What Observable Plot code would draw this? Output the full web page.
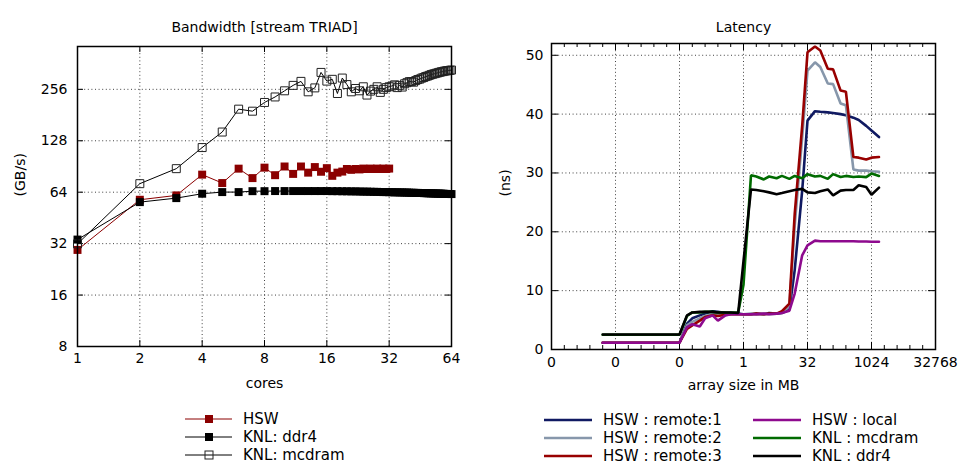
<!DOCTYPE html>
<html><head><meta charset="utf-8">
<script src="https://cdn.jsdelivr.net/npm/d3@7"></script>
<script src="https://cdn.jsdelivr.net/npm/@observablehq/plot@0.6"></script>
<style>
body{margin:0;background:#fff;font-family:"DejaVu Sans",sans-serif;}
#wrap{position:relative;width:958px;height:465px;overflow:hidden;background:#fff}
#wrap > svg{position:absolute;top:0}
</style></head><body><div id="wrap"></div>
<script>
// ---------- Bandwidth chart data ----------
const hswCores = [1,2,3,4,5,6,7,8,9,10,11,12,13,14,15,16,17,18,19,20,21,22,23,24,25,26,27,28,29,30,31,32];
const hswBW = [29.4,57.8,61.3,81.1,72.4,87.9,77.4,89.1,80.5,90.5,81.9,90.5,83.3,89.8,84.3,88.5,79.8,83.3,84.5,87.5,86.5,87.5,87,88,87.5,88,87.5,88,87.5,88,87.5,88];
const knlCores = [1,2,3,4,5,6,7,8,9,10,11,12,13,14,15,16,17,18,19,20,21,22,23,24,25,26,27,28,29,30,31,32,33,34,35,36,37,38,39,40,41,42,43,44,45,46,47,48,49,50,51,52,53,54,55,56,57,58,59,60,61,62,63,64];
const knlDdr4BW = [33.8,56.0,59.1,62.7,64.1,64.1,64.9,64.9,65,65,65,65,65,65,65,65,64.9,64.9,64.8,64.8,64.7,64.7,64.6,64.5,64.5,64.4,64.3,64.3,64.2,64.1,64.1,64,64,63.9,63.9,63.8,63.8,63.7,63.7,63.6,63.5,63.5,63.4,63.4,63.3,63.3,63.2,63.2,63.1,63.1,63,63,62.9,62.9,62.8,62.8,62.7,62.7,62.6,62.6,62.5,62.5,62.5,62.4];
const knlMcdramBW = [31.9,71.8,87.9,116.8,144,196,190.7,214.5,231,251,270,285,247.6,261,321.6,286,293,242,298,273,247.6,259,251,265,237,250,256,265,245.6,256,262,265,268,272,262,270,264,276,280,284,284,282,288,292,294,298,300,304,306,309,312,314,316,318,320,322,324,325,327,328,329,330,331,332];
const bwTicks = [8,16,32,64,128,256];
const coreTicks = [1,2,4,8,16,32,64];

// ---------- Latency chart data ----------
const sizesMB = [0.00048828125,0.000732421875,0.0009765625,0.00146484375,0.001953125,0.0029296875,0.00390625,0.005859375,0.0078125,0.01171875,0.015625,0.0234375,0.03125,0.046875,0.0625,0.09375,0.125,0.1875,0.25,0.375,0.5,0.75,1,1.5,2,3,4,6,8,12,16,24,32,48,64,96,128,192,256,384,512,768,1024,1536];
const hswRemote1 = [1.15,1.15,1.15,1.15,1.15,1.15,1.15,1.15,1.15,1.15,1.15,1.15,1.15,4.4,5.3,5.8,6.1,6.5,6.4,6.2,6.1,6.1,6.0,6.0,6.1,6.0,6.2,6.1,6.2,6.8,13.5,27,38.9,40.5,40.4,40.3,40.2,40.0,39.8,39.4,39.0,38.0,37.2,36.1];
const hswRemote2 = [1.15,1.15,1.15,1.15,1.15,1.15,1.15,1.15,1.15,1.15,1.15,1.15,1.15,4.1,4.7,5.3,5.7,6.0,6.0,6.0,6.0,6.0,6.0,6.1,6.0,6.1,6.0,6.1,6.3,7.3,21,36,47.4,48.8,48.0,45.2,45.1,41.8,41.5,30.6,30.4,30.4,30.3,30.2];
const hswRemote3 = [1.15,1.15,1.15,1.15,1.15,1.15,1.15,1.15,1.15,1.15,1.15,1.15,1.15,3.5,4.1,4.9,5.5,5.8,5.7,5.9,6.0,6.0,6.0,6.0,6.1,6.0,6.1,6.1,6.5,7.8,23,38,50.5,51.5,50.8,47.7,47.6,44.0,43.8,32.7,32.6,32.3,32.6,32.7];
const hswLocal = [1.15,1.15,1.15,1.15,1.15,1.15,1.15,1.15,1.15,1.15,1.15,1.15,1.15,3.8,4.3,3.9,5.3,5.8,4.9,5.8,6.0,6.0,6.0,6.0,6.0,6.1,6.0,6.1,6.2,6.6,9.5,16,17.7,18.5,18.4,18.4,18.4,18.4,18.4,18.4,18.35,18.35,18.3,18.3];
const knlMcdram = [2.5,2.5,2.5,2.5,2.5,2.5,2.5,2.5,2.5,2.5,2.5,2.5,2.5,5.7,6.3,6.3,6.4,6.4,6.3,6.3,6.3,6.3,11,29.6,29.4,28.9,29.4,29.1,29.5,29.0,29.5,29.1,29.8,29.4,29.5,29.0,29.8,29.3,29.5,29.3,29.4,29.3,29.9,29.5];
const knlDdr4 = [2.55,2.55,2.55,2.55,2.55,2.55,2.55,2.55,2.55,2.55,2.55,2.55,2.55,5.8,6.3,6.4,6.4,6.4,6.3,6.3,6.3,6.2,15,27.2,27.1,26.9,26.7,26.4,26.6,26.9,27.1,27.3,26.7,26.6,26.9,27.2,26.2,27.0,27.1,27.1,27.9,27.6,26.3,27.5];
const latTicks = [0,10,20,30,40,50];
const sizeTicks = [0.000030517578125,0.0009765625,0.03125,1,32,1024,32768];
const sizeTickLabels = ["0","0","0","1","32","1024","32768"];

const latSeries = [
  {name:"HSW : remote:1", values:hswRemote1, color:"#101a62"},
  {name:"HSW : remote:2", values:hswRemote2, color:"#8797ab"},
  {name:"HSW : remote:3", values:hswRemote3, color:"#980000"},
  {name:"HSW : local",    values:hswLocal,   color:"#8e0a8e"},
  {name:"KNL : mcdram",   values:knlMcdram,  color:"#006b00"},
  {name:"KNL : ddr4",     values:knlDdr4,    color:"#000000"}
];
const bwSeries = [
  {name:"HSW", cores:hswCores, values:hswBW, color:"#8b0000", fill:"#8b0000"},
  {name:"KNL: ddr4", cores:knlCores, values:knlDdr4BW, color:"#000000", fill:"#000000"},
  {name:"KNL: mcdram", cores:knlCores, values:knlMcdramBW, color:"#000000", fill:"none"}
];

const FONT = "DejaVu Sans, sans-serif";
const gridStyle = {stroke:"#000", strokeOpacity:0.75, strokeDasharray:"1,2.6", strokeWidth:1};
const wrap = document.getElementById("wrap");

// ---------- Left plot ----------
const bwMarks = [];
for (const s of bwSeries) {
  const rows = s.cores.map((c,i)=>({c, v:s.values[i]}));
  bwMarks.push(Plot.line(rows, {x:"c", y:"v", stroke:s.color, strokeWidth:1}));
  bwMarks.push(Plot.dot(rows, {x:"c", y:"v", symbol:"square", r:4.5,
    fill: s.fill === "none" ? "none" : s.fill,
    stroke: s.fill === "none" ? "#222" : null, strokeWidth:1}));
}
const LH = 300, LW = 374;
const left = Plot.plot({
  width:479, height:400,
  marginLeft:77, marginRight:28, marginTop:46, marginBottom:54,
  style:{fontFamily:FONT, fontSize:"14px", color:"#000", background:"#fff", overflow:"visible"},
  x:{type:"log", base:2, domain:[1,64], axis:null},
  y:{type:"log", base:2, domain:[8,456], axis:null},
  marks:[
    Plot.ruleX(coreTicks.slice(1,-1), gridStyle),
    Plot.ruleY(bwTicks.slice(1), gridStyle),
    Plot.ruleX(coreTicks, {stroke:"#000", insetTop:LH-6}),
    Plot.ruleX(coreTicks, {stroke:"#000", insetBottom:LH-6}),
    Plot.ruleY(bwTicks, {stroke:"#000", insetRight:LW-6}),
    Plot.ruleY(bwTicks, {stroke:"#000", insetLeft:LW-6}),
    Plot.text(coreTicks, {x:d=>d, text:d=>String(d), frameAnchor:"bottom", dy:16, fontSize:14}),
    Plot.text(bwTicks, {y:d=>d, text:d=>String(d), frameAnchor:"left", dx:-10, textAnchor:"end", fontSize:14}),
    ...bwMarks,
    Plot.frame({stroke:"#000", strokeWidth:1.5}),
    Plot.text(["Bandwidth [stream TRIAD]"], {text:d=>d, frameAnchor:"top", dy:-24, fontSize:14}),
    Plot.text(["(GB/s)"], {text:d=>d, frameAnchor:"left", dx:-57, rotate:-90, fontSize:14}),
    Plot.text(["cores"], {text:d=>d, frameAnchor:"bottom", dy:41, fontSize:14})
  ]
});
left.style.left = "0px";
wrap.appendChild(left);

// ---------- Right plot ----------
const minorX = d3.range(-15,16).filter(k=>k%5!==0).map(k=>2**k);
const RH = 306, RW = 384;
const latMarks = latSeries.map(s =>
  Plot.line(sizesMB.map((m,i)=>({m, v:s.values[i]})), {x:"m", y:"v", stroke:s.color, strokeWidth:2.6, strokeLinejoin:"miter"}));
const right = Plot.plot({
  width:479, height:400,
  marginLeft:72, marginRight:23, marginTop:43, marginBottom:51,
  style:{fontFamily:FONT, fontSize:"14px", color:"#000", background:"#fff", overflow:"visible"},
  x:{type:"log", base:2, domain:[sizeTicks[0], sizeTicks[sizeTicks.length-1]], axis:null},
  y:{domain:[0,52], axis:null},
  marks:[
    Plot.ruleX(sizeTicks.slice(1,-1), gridStyle),
    Plot.ruleY(latTicks.slice(1), gridStyle),
    Plot.ruleX(sizeTicks, {stroke:"#000", insetTop:RH-7}),
    Plot.ruleX(sizeTicks, {stroke:"#000", insetBottom:RH-7}),
    Plot.ruleX(minorX, {stroke:"#000", insetTop:RH-4}),
    Plot.ruleX(minorX, {stroke:"#000", insetBottom:RH-4}),
    Plot.ruleY(latTicks, {stroke:"#000", insetRight:RW-7}),
    Plot.ruleY(latTicks, {stroke:"#000", insetLeft:RW-7}),
    Plot.text(sizeTicks, {x:d=>d, text:(d,i)=>sizeTickLabels[i], frameAnchor:"bottom", dy:17, fontSize:14}),
    Plot.text(latTicks, {y:d=>d, text:d=>String(d), frameAnchor:"left", dx:-8, textAnchor:"end", fontSize:14}),
    ...latMarks,
    Plot.frame({stroke:"#000", strokeWidth:1.5}),
    Plot.text(["Latency"], {text:d=>d, frameAnchor:"top", dy:-21, fontSize:14}),
    Plot.text(["(ns)"], {text:d=>d, frameAnchor:"left", dx:-46, rotate:-90, fontSize:14}),
    Plot.text(["array size in MB"], {text:d=>d, frameAnchor:"bottom", dy:40, fontSize:14})
  ]
});
right.style.left = "479px";
wrap.appendChild(right);

// ---------- Legends ----------
const leg = d3.select(wrap).append("svg")
  .attr("width",958).attr("height",465)
  .style("position","absolute").style("left","0px").style("top","0px")
  .style("pointer-events","none")
  .style("font-family",FONT).style("font-size","15px");
const lrows = [419,437,455];
bwSeries.forEach((s,i)=>{
  const y = lrows[i];
  leg.append("line").attr("x1",185).attr("x2",232).attr("y1",y).attr("y2",y)
    .attr("stroke",s.color).attr("stroke-width",1);
  leg.append("rect").attr("x",205).attr("y",y-4).attr("width",8).attr("height",8)
    .attr("fill",s.fill).attr("stroke",s.fill==="none"?"#222":"none");
  leg.append("text").attr("x",243).attr("y",y).attr("dy","0.36em").text(s.name);
});
latSeries.forEach((s,i)=>{
  const col = Math.floor(i/3), y = lrows[i%3] + 1;
  const x0 = col ? 753 : 544, tx = col ? 812 : 603;
  leg.append("line").attr("x1",x0).attr("x2",x0+48).attr("y1",y).attr("y2",y)
    .attr("stroke",s.color).attr("stroke-width",2.6);
  leg.append("text").attr("x",tx).attr("y",y).attr("dy","0.36em").text(s.name);
});
</script>
</body></html>
